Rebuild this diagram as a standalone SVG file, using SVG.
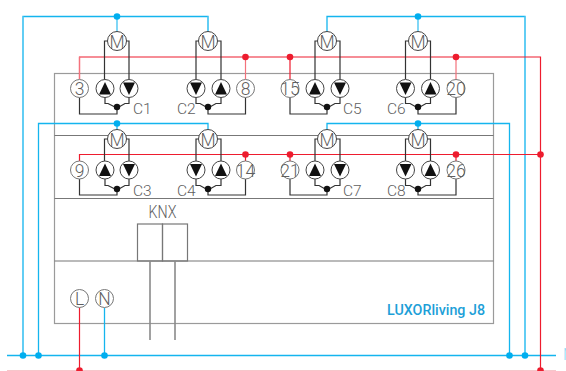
<svg xmlns="http://www.w3.org/2000/svg" xmlns:xlink="http://www.w3.org/1999/xlink" width="566" height="371" viewBox="0 0 566 371">
<style>
text{font-family:"Roboto","Liberation Sans",sans-serif;font-weight:300;fill:#5f5f5f}
.t{font-size:17.500px;text-anchor:middle}
.c{font-size:15.500px}
.b{fill:none;stroke:#14b5ee;stroke-width:1.3}
.bl{fill:none;stroke:#62cdf4;stroke-width:1.6}
.r{fill:none;stroke:#ee1c2e;stroke-width:1.2}
.rl{fill:none;stroke:#f4727c;stroke-width:1.2}
.bd circle{fill:#00aeef;r:3.300px}
.rd circle{fill:#ed1c2e;r:3.300px}
.kd circle{fill:#111;r:3.200px}
.box{fill:none;stroke:#9a9a9a;stroke-width:1.2}
.div{fill:none;stroke:#777;stroke-width:1.2}
.w{fill:none;stroke:#333;stroke-width:1.2}
.k{fill:none;stroke:#8a8a8a;stroke-width:1.6}
.o{fill:#fff;stroke:#444;stroke-width:1}
.p{fill:#fff;stroke:#777;stroke-width:1}
</style>
<defs>
<g id="up"><circle class="o" r="9"/><path d="M-6 6H6L0-6.500Z" fill="#111"/></g>
<g id="dn"><circle class="o" r="9"/><path d="M-6-6H6L0 6.500Z" fill="#111"/></g>
</defs>
<g id="device">
<rect class="box" x="54.500" y="73.500" width="439" height="250"/>
<path class="div" d="M54.500 135.500H493.500M54.500 198.500H493.500M54.500 261H493.500"/>
<rect class="div" x="137.500" y="224" width="25" height="37"/>
<rect class="div" x="162.500" y="224" width="25" height="37"/>
<text x="148.500" y="218" textLength="28" lengthAdjust="spacingAndGlyphs" style="font-size:17.500px">KNX</text>
<text x="387" y="315" textLength="98" lengthAdjust="spacingAndGlyphs" style="font-size:15px;fill:#1d9fd8;font-weight:500">LUXORliving J8</text>
</g>
<g id="connectors">
<path class="b" d="M23 355.500V16.500H208V33"/>
<path class="bl" d="M23 355.500V16.500M208 16.500V33M117 16.500V32"/>
<path class="b" d="M327 32V16.500H525V355.500"/>
<path class="bl" d="M525 16.500V355.500M418 16.500V32"/>
<path class="b" d="M38.500 355.500V123.500H208V130"/>
<path class="b" d="M117 123.500V130M327 130V123.500H509.500V355.500M418 123.500V130"/>
<path class="b" d="M7 355.500H556"/>
<path class="b" d="M104.500 308V355.500"/>
<path d="M7 370.500H556" fill="none" stroke="#f6c6ca" stroke-width="1.200"/>
<path class="r" d="M79.500 79V57H540.500V370.500"/>
<path class="rl" d="M79.500 57V79M245.500 57V79M456 57V79"/>
<path class="r" d="M290 57V79M79.500 161V154.500H540.500M245.500 154.500V161M290 154.500V161M456 154.500V161"/>
<path class="r" d="M79.500 307.500V370.500"/>
<path class="k" d="M150 261V340M175 261V340"/>
<path class="w" d="M129 79V41H104.500V79M221 79V41H196V79M340 79V41H315V79M430.500 79V41H405.500V79"/>
<path class="w" d="M129 161V139H104.500V161M221 161V139H196V161M340 161V139H315V161M430.500 161V139H405.500V161"/>
<path class="w" d="M79.500 97.500V114H117V107M245.500 97.500V114H208V107M290 97.500V114H327V107M456 97.500V114H418V107M79.500 179V195H117V189M245.500 179V195H208V189M290 179V195H327V189M456 179V195H418V189"/>
<path class="w" d="M105 97V103.500H108L117 108L125 103.500H129V97M196 97V103.500H200L208 108L216 103.500H221V97M315 97V103.500H319L327 108L335 103.500H340V97M405.500 97V103.500H410L418 108L426 103.500H430.500V97"/>
<path class="w" d="M105 179V185.500H108L117 190L125 185.500H129V179M196 179V185.500H200L208 190L216 185.500H221V179M315 179V185.500H319L327 190L335 185.500H340V179M405.500 179V185.500H410L418 190L426 185.500H430.500V179"/>
</g>
<g id="junctions">
<g class="bd"><circle cx="117" cy="16.500" r="3"/><circle cx="418" cy="16.500" r="3"/><circle cx="117" cy="123.500" r="3"/><circle cx="418" cy="123.500" r="3"/><circle cx="23" cy="355.500" r="3"/><circle cx="38.500" cy="355.500" r="3"/><circle cx="104.500" cy="355.500" r="3"/><circle cx="509.500" cy="355.500" r="3"/><circle cx="525" cy="355.500" r="3"/></g>
<g class="rd"><circle cx="245.500" cy="57" r="3"/><circle cx="290" cy="57" r="3"/><circle cx="456" cy="57" r="3"/><circle cx="245.500" cy="154.500" r="3"/><circle cx="290" cy="154.500" r="3"/><circle cx="456" cy="154.500" r="3"/><circle cx="540.500" cy="154.500" r="3"/><circle cx="79.500" cy="370.500" r="3"/><circle cx="540.500" cy="370.500" r="3"/></g>
<g class="kd"><circle cx="117" cy="107" r="3"/><circle cx="208" cy="107" r="3"/><circle cx="327" cy="107" r="3"/><circle cx="418" cy="107" r="3"/><circle cx="117" cy="189" r="3"/><circle cx="208" cy="189" r="3"/><circle cx="327" cy="189" r="3"/><circle cx="418" cy="189" r="3"/></g>
</g>
<g id="M1"><circle class="o" cx="117" cy="41" r="9.500"/><text class="t" x="117" y="47.500">M</text></g>
<g id="M2"><circle class="o" cx="208" cy="41" r="9.500"/><text class="t" x="208" y="47.500">M</text></g>
<g id="M5"><circle class="o" cx="327" cy="41" r="9.500"/><text class="t" x="327" y="47.500">M</text></g>
<g id="M6"><circle class="o" cx="418" cy="41" r="9.500"/><text class="t" x="418" y="47.500">M</text></g>
<g id="M3"><circle class="o" cx="117" cy="139" r="9.500"/><text class="t" x="117" y="145.500">M</text></g>
<g id="M4"><circle class="o" cx="208" cy="139" r="9.500"/><text class="t" x="208" y="145.500">M</text></g>
<g id="M7"><circle class="o" cx="327" cy="139" r="9.500"/><text class="t" x="327" y="145.500">M</text></g>
<g id="M8"><circle class="o" cx="418" cy="139" r="9.500"/><text class="t" x="418" y="145.500">M</text></g>
<g id="C1"><use xlink:href="#up" x="105" y="88.500"/><use xlink:href="#dn" x="129" y="88.500"/><text class="c" x="133" y="114">C1</text></g>
<g id="C2"><use xlink:href="#dn" x="196" y="88.500"/><use xlink:href="#up" x="221" y="88.500"/><text class="c" x="177" y="114">C2</text></g>
<g id="C5"><use xlink:href="#up" x="315" y="88.500"/><use xlink:href="#dn" x="340" y="88.500"/><text class="c" x="343" y="114">C5</text></g>
<g id="C6"><use xlink:href="#dn" x="405.500" y="88.500"/><use xlink:href="#up" x="430.500" y="88.500"/><text class="c" x="387" y="114">C6</text></g>
<g id="C3"><use xlink:href="#up" x="105" y="170"/><use xlink:href="#dn" x="129" y="170"/><text class="c" x="133" y="195.500">C3</text></g>
<g id="C4"><use xlink:href="#dn" x="196" y="170"/><use xlink:href="#up" x="221" y="170"/><text class="c" x="177" y="195.500">C4</text></g>
<g id="C7"><use xlink:href="#up" x="315" y="170"/><use xlink:href="#dn" x="340" y="170"/><text class="c" x="343" y="195.500">C7</text></g>
<g id="C8"><use xlink:href="#dn" x="405.500" y="170"/><use xlink:href="#up" x="430.500" y="170"/><text class="c" x="387" y="195.500">C8</text></g>
<g id="T3"><circle class="p" cx="79.500" cy="88.500" r="9"/><text class="t" x="79.500" y="95">3</text></g>
<g id="T8"><circle class="p" cx="245.500" cy="88.500" r="9"/><text class="t" x="245.500" y="95">8</text></g>
<g id="T15"><circle class="p" cx="290" cy="88.500" r="9"/><text class="t" x="290" y="95">15</text></g>
<g id="T20"><circle class="p" cx="456" cy="88.500" r="9"/><text class="t" x="456" y="95">20</text></g>
<g id="T9"><circle class="p" cx="79.500" cy="170" r="9"/><text class="t" x="79.500" y="176.500">9</text></g>
<g id="T14"><circle class="p" cx="245.500" cy="170" r="9"/><text class="t" x="245.500" y="176.500">14</text></g>
<g id="T21"><circle class="p" cx="290" cy="170" r="9"/><text class="t" x="290" y="176.500">21</text></g>
<g id="T26"><circle class="p" cx="456" cy="170" r="9"/><text class="t" x="456" y="176.500">26</text></g>
<g id="TL"><circle class="p" cx="79.500" cy="298.500" r="9"/><text class="t" x="79.500" y="305">L</text></g>
<g id="TN"><circle class="p" cx="104.500" cy="298.500" r="9"/><text class="t" x="104.500" y="305">N</text></g>
<g id="bus-labels"><text x="563" y="360" style="font-size:16px;fill:#8fdcf6">N</text></g>
</svg>
